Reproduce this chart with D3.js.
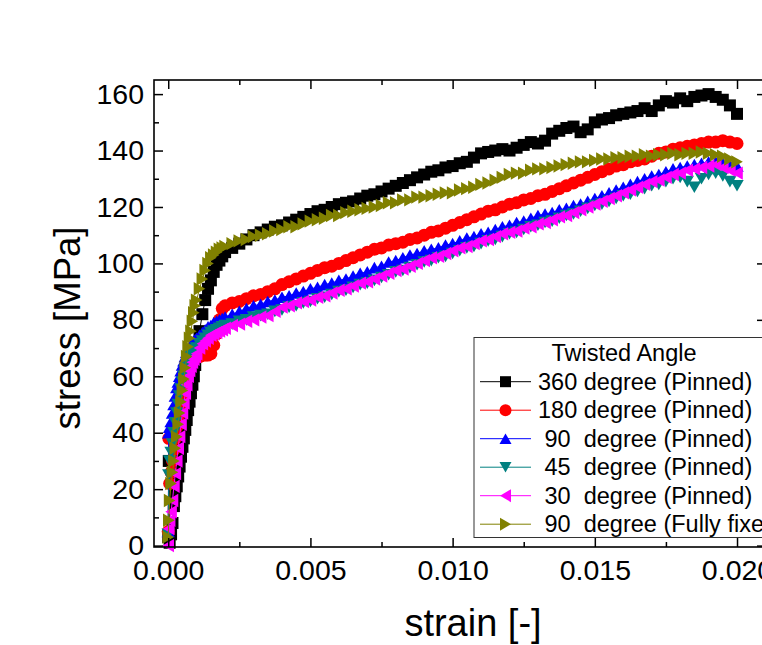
<!DOCTYPE html>
<html>
<head>
<meta charset="utf-8">
<script src="https://cdn.jsdelivr.net/npm/d3@7/dist/d3.min.js"></script>
<style>
  html, body { margin: 0; padding: 0; background: #fff; }
  svg { display: block; }
  text { font-family: "Liberation Sans", Arial, sans-serif; fill: #000; }
</style>
</head>
<body>
<svg id="chart" width="762" height="645"></svg>
<script>
// ---------------- DATA ----------------
const strain = [0, 0.00002, 0.00005, 0.0001, 0.00015, 0.0002, 0.00025, 0.0003, 0.00035, 0.0004, 0.00045, 0.0005, 0.00055, 0.0006, 0.00065, 0.0007, 0.00075, 0.0008, 0.00085, 0.0009, 0.00095, 0.001,
  0.0011, 0.0012, 0.0013, 0.0014, 0.0015, 0.0016, 0.0017, 0.0018, 0.0019, 0.002,
  0.00225, 0.0025, 0.00275, 0.003, 0.00325, 0.0035, 0.00375, 0.004, 0.00425, 0.0045, 0.00475, 0.005,
  0.00525, 0.0055, 0.00575, 0.006, 0.00625, 0.0065, 0.00675, 0.007, 0.00725, 0.0075, 0.00775, 0.008,
  0.00825, 0.0085, 0.00875, 0.009, 0.00925, 0.0095, 0.00975, 0.010, 0.01025, 0.0105, 0.01075, 0.011,
  0.01125, 0.0115, 0.01175, 0.012, 0.01225, 0.0125, 0.01275, 0.013, 0.01325, 0.0135, 0.01375, 0.014,
  0.01425, 0.0145, 0.01475, 0.015, 0.01525, 0.0155, 0.01575, 0.016, 0.01625, 0.0165, 0.01675, 0.017,
  0.01725, 0.0175, 0.01775, 0.018, 0.01825, 0.0185, 0.01875, 0.019, 0.01925, 0.0195, 0.01975, 0.020];

const stress360 = [3, 30, 1, 4, 8, 14, 17.5, 21, 24.5, 28, 31.5, 35, 38, 41, 44.5, 48, 51, 54, 57, 60, 64, 68,
  76, 82, 87, 91, 94, 97, 99.5, 101, 102.5, 104,
  105.5, 107, 108.5, 110, 111, 112, 113, 113.5, 114.5, 115.5, 116.5, 117.5,
  118.5, 119, 120, 121, 121.5, 122, 123, 124, 124.5, 125.5, 126.5, 127.5,
  128.5, 129.5, 130.5, 131.5, 132.5, 133, 134, 134.5, 135.5, 136, 137.5, 139,
  139.5, 140, 140.5, 140, 141, 142, 143, 142.5, 143.5, 146, 147, 148,
  148.5, 146.5, 147.5, 150, 151, 151.5, 152.5, 153, 153.5, 154, 155, 154,
  156, 157.5, 157, 158.5, 157.5, 159, 159.5, 160, 159, 158, 156, 153];

const stress180 = [5, 38, 22, 26, 30, 34, 38, 42, 45.5, 49, 52, 55, 57.5, 60, 62, 63.5, 64.5, 65.5, 66, 66.5, 66.5, 67,
  67, 67.5, 67.5, 67.5, 68, 71, 75, 80, 84, 85,
  86, 86.5, 87.5, 88.5, 89, 90, 91, 92.5, 93.5, 94.5, 95.5, 96.5,
  97.5, 98.5, 99, 100, 101, 102, 103, 104, 105, 105.5, 106.5, 107,
  107.5, 108.5, 109, 110, 111, 111.5, 112.5, 113.5, 114.5, 115.5, 116.5, 117.5,
  118.5, 119, 120, 121, 121.5, 122.5, 123, 124, 124.5, 125.5, 126.5, 127.5,
  128.5, 129.5, 130.5, 131.5, 132.5, 133.5, 134.5, 135, 136, 136.5, 137, 138,
  139, 139.5, 140.5, 141, 141.5, 142, 142.5, 143, 143, 143.5, 143, 142.5];

const stress90 = [5, 40, 42, 44, 47, 50, 53, 56, 58, 60, 62, 64, 65.5, 67, 68.5, 69.5, 70.5, 71, 72, 72.5, 73, 73.5,
  74.5, 75.5, 76.5, 77.5, 78, 79, 79.5, 80, 80.5, 81,
  82, 83, 84, 85, 85.5, 86.5, 87, 88, 88.5, 89.5, 90, 91,
  91.5, 92.5, 93, 94, 94.5, 95.5, 96.5, 97, 98.5, 99, 100.5, 101,
  102, 103, 103.5, 104.5, 105, 105.5, 106.5, 107, 108, 109, 109.5, 110.5,
  111, 112, 113, 113.5, 114.5, 115, 116, 117, 117.5, 118, 119, 119.5,
  120.5, 121, 122, 123, 124, 125, 126, 127, 128, 129, 130, 131,
  131.5, 132.5, 133.5, 134, 134.5, 135, 135.5, 136, 136, 135.5, 135, 134.5];

const stress45 = [4, 25, 30, 33, 36, 40, 43.5, 47, 50, 53, 55.5, 58, 60, 62, 63.5, 65, 66, 67, 68, 68.5, 69.5, 70,
  71.5, 72.5, 73.5, 74.5, 75.5, 76, 76.5, 77, 77.5, 78,
  78.5, 79.5, 80, 81, 81.5, 82, 83, 83.5, 84.5, 85, 86, 86.5,
  87.5, 88, 89, 90, 90.5, 91.5, 92.5, 93, 94, 95, 96, 97,
  97.5, 98.5, 99.5, 100.5, 101, 102, 102.5, 103.5, 104.5, 105.5, 106, 107,
  108, 108.5, 109.5, 110.5, 111, 112, 113, 113.5, 114.5, 115, 116, 117,
  117.5, 118.5, 119.5, 120.5, 121, 122, 123, 124, 124.5, 125.5, 126.5, 127.5,
  128, 129, 130, 130.5, 129, 127, 130, 131.5, 132, 131, 129, 127.5];

const stress30 = [0, 6, 9, 12, 16, 21, 25.5, 30, 34.5, 38.6, 43, 47, 50.5, 54, 57, 60, 62, 63.5, 65, 66, 67, 68,
  70, 71.5, 72.5, 73.5, 74.5, 75, 75.5, 76, 76.5, 77,
  78, 78.5, 79.5, 80, 81, 81.5, 83, 84.5, 85, 86, 86.5, 87,
  88, 88.5, 89.5, 90.5, 91, 92, 93, 93.5, 94.5, 95.5, 96.5, 97.5,
  98, 99, 100, 101, 102, 102.5, 103.5, 104.5, 105.5, 106, 107, 108,
  108.5, 109.5, 110.5, 111, 111.5, 112.5, 113, 114, 114.5, 115.5, 116.5, 117,
  118, 119, 120, 121, 122, 123, 124, 125, 126, 127, 128, 129,
  129.5, 130.5, 131.5, 132, 133, 133.5, 134, 134.5, 135, 134, 133, 132];

const stress90Fixed = [3, 9, 16, 22, 26, 30, 34.5, 38.6, 43, 47, 51, 55, 59, 63, 67, 70.5, 73.5, 76, 79.5, 82.5, 85, 87,
  91, 94.5, 97.5, 100, 102, 103, 104, 105, 105.5, 106,
  107, 108, 108.5, 109.5, 110, 110.5, 111.5, 112, 113, 113, 114, 115,
  115.5, 116, 117, 117, 118, 118.5, 119, 119.5, 120, 120.5, 121.5, 121.5,
  122.5, 122.5, 123.5, 123.5, 124, 124.5, 125, 125, 126, 126.5, 127, 128,
  128.5, 129.5, 130.5, 131.5, 132, 132, 133, 133.5, 133.5, 134, 134.5, 135,
  135.5, 136, 136, 136.5, 137, 137, 137.5, 137.5, 138, 138, 138.5, 138,
  138.5, 138.5, 139, 138.5, 139, 139, 139.5, 139, 138.5, 138, 137, 136];

const seriesNames = ["360 degree (Pinned)", "180 degree (Pinned)", " 90  degree (Pinned)",
  " 45  degree (Pinned)", " 30  degree (Pinned)", " 90  degree (Fully fixed)"];
const seriesColors = ["#000000", "#ff0000", "#0000ff", "#008080", "#ff00ff", "#808000"];
const seriesShapes = ["square", "circle", "up", "down", "left", "right"];
const seriesValues = [stress360, stress180, stress90, stress45, stress30, stress90Fixed];

const xMajorTicks = [0, 0.005, 0.010, 0.015, 0.020];
const xTickLabels = ["0.000", "0.005", "0.010", "0.015", "0.020"];
const xMinorTicks = [0.0025, 0.0075, 0.0125, 0.0175];
const yMajorTicks = [0, 20, 40, 60, 80, 100, 120, 140, 160];
const yTickLabels = ["0", "20", "40", "60", "80", "100", "120", "140", "160"];
const yMinorTicks = [10, 30, 50, 70, 90, 110, 130, 150];
const legendTitle = "Twisted Angle";
const xTitle = "strain [-]";
const yTitle = "stress [MPa]";

// ---------------- LAYOUT ----------------
(function () {
const svg = d3.select("#chart");
svg.append("rect").attr("width", 762).attr("height", 645).attr("fill", "#fff");

const pL = 154, pR = 766, pT = 80, pB = 547;
const x = d3.scaleLinear().domain([-0.0005, 0.0210]).range([pL, pL + 0.0215 * 28440]);
const y = d3.scaleLinear().domain([-0.5, 165]).range([pB, pT]);

const shapes = {
  square: "M-6,-6h12v12h-12Z",
  circle: d3.symbol(d3.symbolCircle, Math.PI * 6.5 * 6.5)(),
  up: "M0,-5.8L6.7,5.8L-6.7,5.8Z",
  down: "M0,5.8L6.7,-5.8L-6.7,-5.8Z",
  left: "M-5.8,0L5.8,-6.7L5.8,6.7Z",
  right: "M5.8,0L-5.8,-6.7L-5.8,6.7Z"
};
const legendShapes = {
  square: "M-5.5,-5.5h11v11h-11Z",
  circle: d3.symbol(d3.symbolCircle, Math.PI * 36)(),
  up: "M0,-5.2L6,5.2L-6,5.2Z",
  down: "M0,5.2L6,-5.2L-6,-5.2Z",
  left: "M-5.5,0L5.5,-6.5L5.5,6.5Z",
  right: "M5.5,0L-5.5,-6.5L-5.5,6.5Z"
};

// ---------------- SERIES ----------------
const plot = svg.append("g");
const line = d3.line().x(d => x(d[0])).y(d => y(d[1]));
seriesValues.forEach((vals, i) => {
  const pts = strain.map((s, j) => [s, vals[j]]);
  const g = plot.append("g");
  g.append("path").attr("d", line(pts)).attr("fill", "none")
    .attr("stroke", seriesColors[i]).attr("stroke-width", 1);
  g.selectAll("path.m").data(pts).enter().append("path").attr("class", "m")
    .attr("d", shapes[seriesShapes[i]])
    .attr("transform", d => `translate(${x(d[0])},${y(d[1])})`)
    .attr("fill", seriesColors[i]);
});

// ---------------- AXES ----------------
const axisStyle = g => {
  g.selectAll(".domain").remove();
  g.selectAll(".tick line").attr("stroke", "#000").attr("stroke-width", 1.5);
  g.selectAll(".tick text").attr("font-size", 28.5).attr("font-family", "Liberation Sans, Arial, sans-serif");
};

svg.append("g").attr("transform", `translate(0,${pB})`)
  .call(d3.axisBottom(x).tickValues(xMajorTicks).tickFormat((d, i) => xTickLabels[i])
    .tickSizeInner(-9).tickSizeOuter(0).tickPadding(13)).call(axisStyle);
svg.append("g").attr("transform", `translate(0,${pB})`)
  .call(d3.axisBottom(x).tickValues(xMinorTicks).tickFormat("").tickSizeInner(-5).tickSizeOuter(0)).call(axisStyle);
svg.append("g").attr("transform", `translate(0,${pT})`)
  .call(d3.axisTop(x).tickValues(xMajorTicks).tickFormat("").tickSizeInner(-9).tickSizeOuter(0)).call(axisStyle);
svg.append("g").attr("transform", `translate(0,${pT})`)
  .call(d3.axisTop(x).tickValues(xMinorTicks).tickFormat("").tickSizeInner(-5).tickSizeOuter(0)).call(axisStyle);
svg.append("g").attr("transform", `translate(${pL},0)`)
  .call(d3.axisLeft(y).tickValues(yMajorTicks).tickFormat((d, i) => yTickLabels[i])
    .tickSizeInner(-9).tickSizeOuter(0).tickPadding(10)).call(axisStyle);
svg.append("g").attr("transform", `translate(${pL},0)`)
  .call(d3.axisLeft(y).tickValues(yMinorTicks).tickFormat("").tickSizeInner(-5).tickSizeOuter(0)).call(axisStyle);
svg.append("g").attr("transform", `translate(${pR},0)`)
  .call(d3.axisRight(y).tickValues(yMajorTicks).tickFormat("").tickSizeInner(-9).tickSizeOuter(0)).call(axisStyle);

svg.append("rect").attr("x", pL).attr("y", pT).attr("width", pR - pL).attr("height", pB - pT)
  .attr("fill", "none").attr("stroke", "#000").attr("stroke-width", 1.6);

svg.append("text").attr("x", 473).attr("y", 636).attr("text-anchor", "middle")
  .attr("font-size", 38).text(xTitle);
svg.append("text").attr("transform", "translate(80,328) rotate(-90)").attr("text-anchor", "middle")
  .attr("font-size", 36.5).text(yTitle);

// ---------------- LEGEND ----------------
const lg = svg.append("g");
lg.append("rect").attr("x", 474).attr("y", 337.5).attr("width", 320).attr("height", 200)
  .attr("fill", "#fff").attr("stroke", "#333").attr("stroke-width", 1);
lg.append("text").attr("x", 624).attr("y", 353).attr("dy", "0.35em").attr("text-anchor", "middle")
  .attr("font-size", 23.5).text(legendTitle);
seriesNames.forEach((name, i) => {
  const cy = 381.7 + i * 28.5;
  lg.append("line").attr("x1", 480).attr("x2", 531).attr("y1", cy).attr("y2", cy)
    .attr("stroke", seriesColors[i]).attr("stroke-width", 1);
  lg.append("path").attr("d", legendShapes[seriesShapes[i]]).attr("transform", `translate(505.5,${cy})`)
    .attr("fill", seriesColors[i]);
  lg.append("text").attr("x", 538).attr("y", cy).attr("dy", "0.35em").attr("font-size", 23.5)
    .attr("xml:space", "preserve").style("white-space", "pre").text(name);
});
})();
</script>
</body>
</html>
